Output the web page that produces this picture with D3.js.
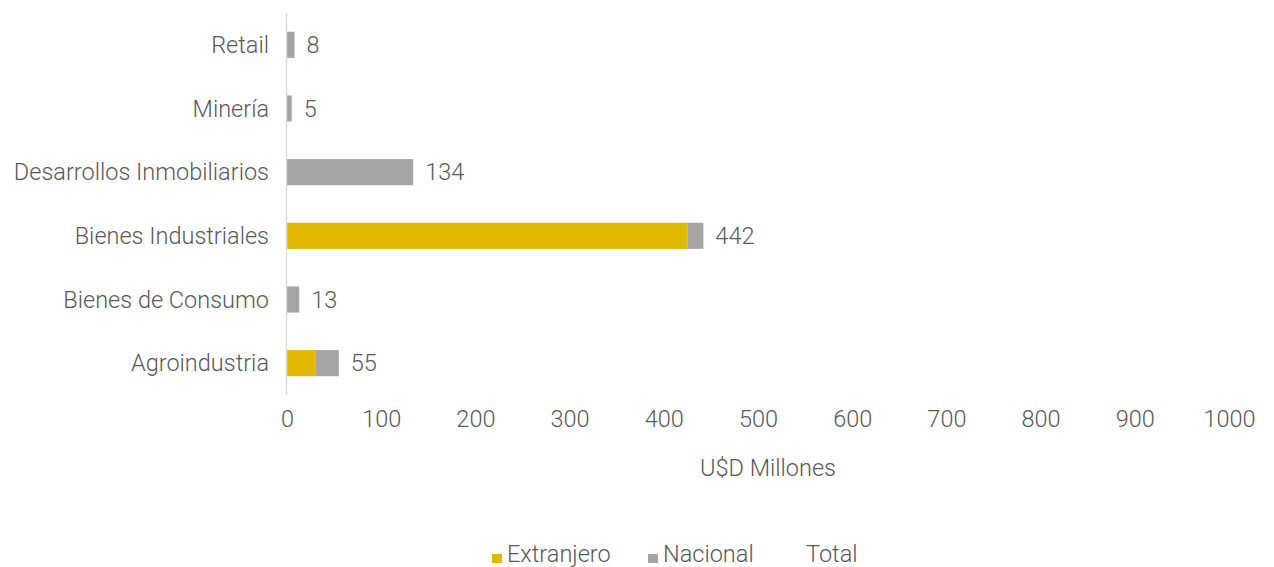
<!DOCTYPE html>
<html>
<head>
<meta charset="utf-8">
<script src="https://cdn.jsdelivr.net/npm/d3@7"></script>
<style>
  html, body { margin: 0; padding: 0; background: #ffffff; }
  svg { display: block; font-family: Roboto, "Open Sans", sans-serif; font-weight: 300; }
</style>
</head>
<body>
<svg id="chart" width="1274" height="567"></svg>
<script>
// Sectors, top to bottom
const categories = ["Retail", "Minería", "Desarrollos Inmobiliarios", "Bienes Industriales", "Bienes de Consumo", "Agroindustria"];
// U$D millions by origin of capital
const extranjero = [0, 0, 0, 425, 0, 30];
const nacional   = [8, 5, 134, 17, 13, 25];
const totals     = [8, 5, 134, 442, 13, 55];
const xTicks     = [0, 100, 200, 300, 400, 500, 600, 700, 800, 900, 1000];
const seriesNames = ["Extranjero", "Nacional", "Total"];
const colors = { Extranjero: "#E1B800", Nacional: "#A5A5A5" };

const svg = d3.select("#chart");
const textColor = "#595959";
const fontSize = "23.5px";

const x = d3.scaleLinear().domain([0, 1000]).range([287, 1229]);
const y = d3.scaleBand().domain(categories).range([13, 395]).paddingInner(0.59).paddingOuter(0.295);

const rows = categories.map((c, i) => ({ cat: c, Extranjero: extranjero[i], Nacional: nacional[i], Total: totals[i] }));
const stack = d3.stack().keys(["Extranjero", "Nacional"])(rows);

// stacked bars
svg.append("g").selectAll("g").data(stack).join("g")
  .attr("fill", s => colors[s.key])
  .selectAll("rect").data(s => s).join("rect")
  .attr("x", d => x(d[0]))
  .attr("y", d => y(d.data.cat))
  .attr("width", d => Math.max(0, x(d[1]) - x(d[0])))
  .attr("height", y.bandwidth());

// category axis line
svg.append("line")
  .attr("x1", x(0) - 0.5).attr("x2", x(0) - 0.5)
  .attr("y1", 13).attr("y2", 395)
  .attr("stroke", "#d9d9d9").attr("stroke-width", 1.5);

// category labels
const yAxis = svg.append("g").attr("transform", `translate(${x(0) - 18},0)`)
  .call(d3.axisLeft(y).tickSize(0).tickPadding(0));
yAxis.select(".domain").remove();
yAxis.selectAll("text").attr("fill", textColor).style("font-size", fontSize)
  .attr("dy", "0.35em").style("font-family", "Roboto, sans-serif").style("font-weight", 300);

// value axis tick labels
const xAxis = svg.append("g").attr("transform", "translate(0,427)")
  .call(d3.axisBottom(x).tickValues(xTicks).tickSize(0).tickPadding(0).tickFormat(d3.format("d")));
xAxis.select(".domain").remove();
xAxis.selectAll("text").attr("fill", textColor).style("font-size", fontSize)
  .attr("dy", "0").style("font-family", "Roboto, sans-serif").style("font-weight", 300);

// totals
svg.append("g").selectAll("text").data(rows).join("text")
  .attr("x", d => x(d.Total) + 12)
  .attr("y", d => y(d.cat) + y.bandwidth() / 2)
  .attr("dy", "0.35em")
  .attr("fill", textColor).style("font-size", fontSize)
  .text(d => d.Total);

// axis title
svg.append("text")
  .attr("x", 768).attr("y", 476)
  .attr("text-anchor", "middle")
  .attr("fill", textColor).style("font-size", fontSize)
  .text("U$D Millones");

// legend
const legendItems = [
  { name: seriesNames[0], x: 492, color: colors.Extranjero },
  { name: seriesNames[1], x: 648, color: colors.Nacional },
  { name: seriesNames[2], x: 791, color: null }
];
const lg = svg.append("g").selectAll("g").data(legendItems).join("g");
lg.filter(d => d.color).append("rect")
  .attr("x", d => d.x).attr("y", 554).attr("width", 10).attr("height", 9)
  .attr("fill", d => d.color);
lg.append("text")
  .attr("x", d => d.x + 15).attr("y", 562)
  .attr("fill", textColor).style("font-size", fontSize)
  .text(d => d.name);
</script>
</body>
</html>
